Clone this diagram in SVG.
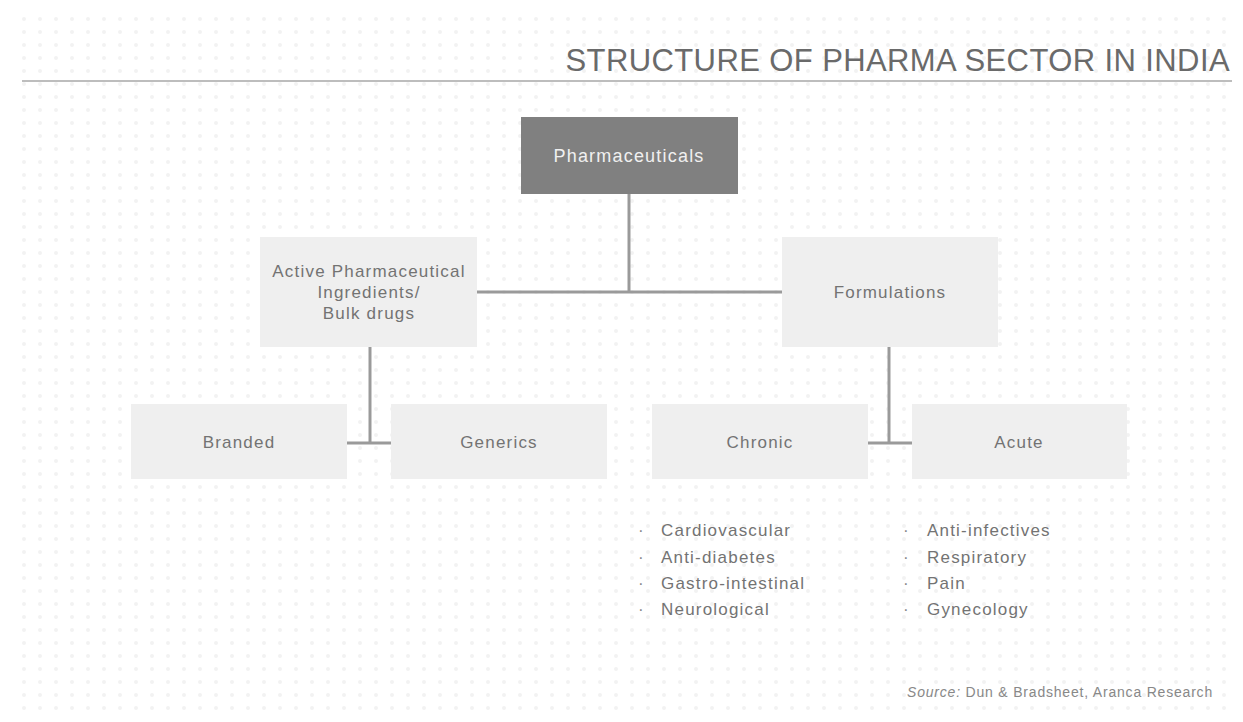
<svg xmlns="http://www.w3.org/2000/svg" width="1243" height="722" viewBox="0 0 1243 722">
  <defs>
    <pattern id="dots" x="0" y="0" width="16" height="13" patternUnits="userSpaceOnUse">
      <circle cx="8" cy="6" r="2" fill="#f2f2f2"/>
    </pattern>
    <style>
      .node { fill: #efefef; }
      .root { fill: #808080; }
      .lbl { font-family: "Liberation Sans", Arial, sans-serif; font-size: 17px; fill: #737373; text-anchor: middle; letter-spacing: 1.2px; }
      .rootlbl { font-family: "Liberation Sans", Arial, sans-serif; font-size: 18px; fill: #f0f0f0; text-anchor: middle; letter-spacing: 1.2px; }
      .item { font-family: "Liberation Sans", Arial, sans-serif; font-size: 17px; fill: #737373; letter-spacing: 1.2px; }
      .bullet { font-family: "Liberation Sans", Arial, sans-serif; font-size: 17px; fill: #8a8a8a; }
      .conn { stroke: #9a9a9a; stroke-width: 3; fill: none; }
    </style>
  </defs>
  <rect width="1243" height="722" fill="#ffffff"/>
  <rect x="10" y="12" width="1225" height="706" fill="url(#dots)"/>

  <text x="1230" y="71" font-family="'Liberation Sans', Arial, sans-serif" font-size="31" fill="#6a6a6a" text-anchor="end" letter-spacing="0.4">STRUCTURE OF PHARMA SECTOR IN INDIA</text>
  <line x1="22" y1="81" x2="1232" y2="81" stroke="#bdbdbd" stroke-width="2"/>

  <g id="connectors">
    <line class="conn" x1="629" y1="194" x2="629" y2="292"/>
    <line class="conn" x1="477" y1="292" x2="782" y2="292"/>
    <line class="conn" x1="370" y1="347" x2="370" y2="443"/>
    <line class="conn" x1="347" y1="443" x2="391" y2="443"/>
    <line class="conn" x1="889" y1="347" x2="889" y2="443"/>
    <line class="conn" x1="868" y1="443" x2="912" y2="443"/>
  </g>

  <g id="pharmaceuticals">
    <rect class="root" x="521" y="117" width="217" height="77"/>
    <text class="rootlbl" x="629" y="162">Pharmaceuticals</text>
  </g>
  <g id="api">
    <rect class="node" x="260" y="237" width="217" height="110"/>
    <text class="lbl" x="369" y="277">Active Pharmaceutical</text>
    <text class="lbl" x="369" y="298">Ingredients/</text>
    <text class="lbl" x="369" y="319">Bulk drugs</text>
  </g>
  <g id="formulations">
    <rect class="node" x="782" y="237" width="216" height="110"/>
    <text class="lbl" x="890" y="298">Formulations</text>
  </g>
  <g id="branded">
    <rect class="node" x="131" y="404" width="216" height="75"/>
    <text class="lbl" x="239" y="448">Branded</text>
  </g>
  <g id="generics">
    <rect class="node" x="391" y="404" width="216" height="75"/>
    <text class="lbl" x="499" y="448">Generics</text>
  </g>
  <g id="chronic">
    <rect class="node" x="652" y="404" width="216" height="75"/>
    <text class="lbl" x="760" y="448">Chronic</text>
  </g>
  <g id="acute">
    <rect class="node" x="912" y="404" width="215" height="75"/>
    <text class="lbl" x="1019" y="448">Acute</text>
  </g>

  <g id="chronic-list">
    <text class="bullet" x="638" y="536">·</text>
    <text class="item" x="661" y="536">Cardiovascular</text>
    <text class="bullet" x="638" y="563">·</text>
    <text class="item" x="661" y="563">Anti-diabetes</text>
    <text class="bullet" x="638" y="589">·</text>
    <text class="item" x="661" y="589">Gastro-intestinal</text>
    <text class="bullet" x="638" y="615">·</text>
    <text class="item" x="661" y="615">Neurological</text>
  </g>
  <g id="acute-list">
    <text class="bullet" x="903" y="536">·</text>
    <text class="item" x="927" y="536">Anti-infectives</text>
    <text class="bullet" x="903" y="563">·</text>
    <text class="item" x="927" y="563">Respiratory</text>
    <text class="bullet" x="903" y="589">·</text>
    <text class="item" x="927" y="589">Pain</text>
    <text class="bullet" x="903" y="615">·</text>
    <text class="item" x="927" y="615">Gynecology</text>
  </g>

  <text x="1213" y="697" font-family="'Liberation Sans', Arial, sans-serif" font-size="14" fill="#888888" text-anchor="end" letter-spacing="0.8"><tspan font-style="italic">Source:</tspan> Dun &amp; Bradsheet, Aranca Research</text>
</svg>
